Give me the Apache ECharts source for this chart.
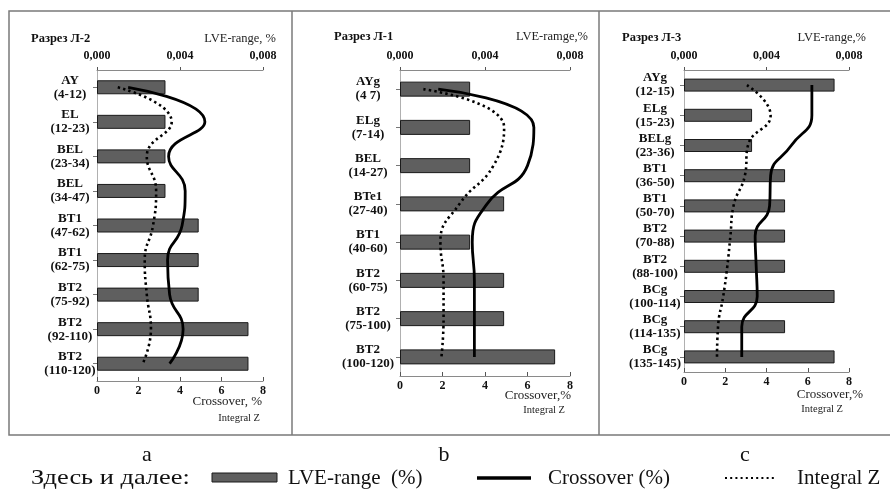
<!DOCTYPE html>
<html><head><meta charset="utf-8">
<script src="https://cdn.jsdelivr.net/npm/echarts@6/dist/echarts.min.js"></script>
<style>html,body{margin:0;padding:0;background:#fff}#c{width:890px;height:496px}</style>
</head><body><div id="c"></div>
<script>
// ---- data ----
const catsA = ["AY\n(4-12)","EL\n(12-23)","BEL\n(23-34)","BEL\n(34-47)","BT1\n(47-62)","BT1\n(62-75)","BT2\n(75-92)","BT2\n(92-110)","BT2\n(110-120)"];
const lveA = [0.0033,0.0033,0.0033,0.0033,0.0049,0.0049,0.0049,0.0073,0.0073];
const crossA = [1.5,5.2,3.45,4.25,4.1,3.4,3.5,4.15,3.5];
const intZA = [1.0,3.6,2.4,2.85,2.7,2.3,2.4,2.6,2.2];

const catsB = ["AYg\n(4 7)","ELg\n(7-14)","BEL\n(14-27)","BTe1\n(27-40)","BT1\n(40-60)","BT2\n(60-75)","BT2\n(75-100)","BT2\n(100-120)"];
const lveB = [0.0033,0.0033,0.0033,0.0049,0.0033,0.0049,0.0049,0.0073];
const crossB = [1.8,6.3,6.0,4.1,3.4,3.5,3.5,3.5];
const intZB = [1.1,4.9,4.4,2.8,1.9,2.05,2.05,1.95];

const catsC = ["AYg\n(12-15)","ELg\n(15-23)","BELg\n(23-36)","BT1\n(36-50)","BT1\n(50-70)","BT2\n(70-88)","BT2\n(88-100)","BCg\n(100-114)","BCg\n(114-135)","BCg\n(135-145)"];
const lveC = [0.0073,0.0033,0.0033,0.0049,0.0049,0.0049,0.0049,0.0073,0.0049,0.0073];
const crossC = [6.2,6.2,5.2,4.2,4.15,3.45,3.5,3.55,2.8,2.8];
const intZC = [3.05,4.2,3.1,2.95,2.4,2.25,2.1,1.9,1.65,1.6];

const topTicks = {min:0, max:0.008, interval:0.004};
const botTicks = {min:0, max:8, interval:2};

// ---- layout ----
const F = '"Liberation Serif", "Times New Roman", serif';
const panels = [
  {cats:catsA, lve:lveA, cross:crossA, intZ:intZA, grid:{left:97, top:70, width:166, height:311}, bw:14, lm:27,
   title:"Разрез Л-2", tx:31, ty:39, top:"LVE-range, %", topR:276, topY:39, cr:"Crossover, %", crR:262, crY:402, izR:260, izY:418},
  {cats:catsB, lve:lveB, cross:crossB, intZ:intZB, grid:{left:400, top:70, width:170, height:306}, bw:15, lm:32,
   title:"Разрез Л-1", tx:334, ty:37, top:"LVE-ramge,%", topR:588, topY:37, cr:"Crossover,%", crR:571, crY:396, izR:565, izY:410},
  {cats:catsC, lve:lveC, cross:crossC, intZ:intZC, grid:{left:684, top:70, width:165, height:302}, bw:13, lm:29,
   title:"Разрез Л-3", tx:622, ty:38, top:"LVE-range,%", topR:866, topY:38, cr:"Crossover,%", crR:863, crY:395, izR:843, izY:409}
];

const grid=[], xAxis=[], yAxis=[], series=[], graphic=[];
const axisGray = '#8a8a8a';
panels.forEach((p,i)=>{
  grid.push(p.grid);
  xAxis.push({type:'value', gridIndex:i, position:'top', ...topTicks,
    axisLine:{show:true, lineStyle:{color:axisGray, width:1}},
    axisTick:{show:true, length:3, lineStyle:{color:'#555'}},
    splitLine:{show:false},
    axisLabel:{margin:8, fontFamily:F, fontWeight:'bold', fontSize:12, color:'#111',
      formatter:v=>v.toFixed(3).replace('.',',')}});
  xAxis.push({type:'value', gridIndex:i, position:'bottom', ...botTicks,
    axisLine:{show:true, onZero:false, lineStyle:{color:axisGray, width:1}},
    axisTick:{show:true, inside:true, length:4, lineStyle:{color:'#555'}},
    splitLine:{show:false},
    axisLabel:{margin:4, fontFamily:F, fontWeight:'bold', fontSize:12, color:'#111'}});
  yAxis.push({type:'category', gridIndex:i, data:p.cats, inverse:true,
    axisLine:{show:true, lineStyle:{color:'#b0b0b0'}},
    axisTick:{show:true, alignWithLabel:true, length:4, lineStyle:{color:'#777'}},
    axisLabel:{margin:p.lm, align:'center', fontFamily:F, fontWeight:'bold', fontSize:13, lineHeight:14, color:'#111'}});
  series.push({type:'bar', name:'LVE-range (%)', xAxisIndex:2*i, yAxisIndex:i, data:p.lve, barWidth:p.bw,
    itemStyle:{color:'#5f5f5f', borderColor:'#1a1a1a', borderWidth:1}, z:2, silent:true});
  series.push({type:'line', name:'Crossover (%)', xAxisIndex:2*i+1, yAxisIndex:i, smooth:0.5, symbol:'none',
    data:p.cross.map((v,k)=>[v,k]), lineStyle:{color:'#000', width:2.8}, z:5, silent:true});
  series.push({type:'line', name:'Integral Z', xAxisIndex:2*i+1, yAxisIndex:i, smooth:0.5, symbol:'none',
    data:p.intZ.map((v,k)=>[v,k]), lineStyle:{color:'#000', width:2.6, type:[2.4,3.2]}, z:5, silent:true});
  graphic.push({type:'text', left:p.tx, top:p.ty-7, style:{text:p.title, font:'bold 12.5px '+F, fill:'#111'}});
  graphic.push({type:'text', x:p.topR, y:p.topY, style:{text:p.top, font:'12.5px '+F, fill:'#222', align:'right', verticalAlign:'middle'}});
  graphic.push({type:'text', x:p.crR, y:p.crY, style:{text:p.cr, font:'13px '+F, fill:'#222', align:'right', verticalAlign:'middle'}});
  graphic.push({type:'text', x:p.izR, y:p.izY, style:{text:'Integral Z', font:'10.5px '+F, fill:'#222', align:'right', verticalAlign:'middle'}});
});

// frames
const fr = {stroke:'#7a7a7a', lineWidth:1.5};
graphic.push({type:'polyline', shape:{points:[[890,11],[9,11],[9,435],[890,435]]}, style:{...fr, fill:null}, silent:true});
graphic.push({type:'line', shape:{x1:292,y1:11,x2:292,y2:435}, style:fr, silent:true});
graphic.push({type:'line', shape:{x1:599,y1:11,x2:599,y2:435}, style:fr, silent:true});

// panel letters
[['a',147],['b',444],['c',745]].forEach(([t,x])=>{
  graphic.push({type:'text', x:x, y:455, style:{text:t, font:'22px '+F, fill:'#111', align:'center', verticalAlign:'middle'}});
});
// legend
const LY = 478;
graphic.push({type:'text', x:31, y:LY, scaleX:1.2, style:{text:'Здесь и далее:', font:'22px '+F, fill:'#111', verticalAlign:'middle'}});
graphic.push({type:'rect', shape:{x:212, y:LY-5, width:65, height:9}, style:{fill:'#5f5f5f', stroke:'#1a1a1a', lineWidth:1}});
graphic.push({type:'text', x:288, y:LY, style:{text:'LVE-range  (%)', font:'21px '+F, fill:'#111', verticalAlign:'middle'}});
graphic.push({type:'line', shape:{x1:477,y1:LY,x2:531,y2:LY}, style:{stroke:'#000', lineWidth:3.5}});
graphic.push({type:'text', x:548, y:LY, style:{text:'Crossover (%)', font:'21px '+F, fill:'#111', verticalAlign:'middle'}});
graphic.push({type:'line', shape:{x1:725,y1:LY,x2:774,y2:LY}, style:{stroke:'#000', lineWidth:2, lineDash:[2,3.2]}});
graphic.push({type:'text', x:797, y:LY, style:{text:'Integral Z', font:'21px '+F, fill:'#111', verticalAlign:'middle'}});

const chart = echarts.init(document.getElementById('c'), null, {renderer:'canvas'});
chart.setOption({animation:false, backgroundColor:'#fff', grid, xAxis, yAxis, series, graphic});
</script></body></html>
